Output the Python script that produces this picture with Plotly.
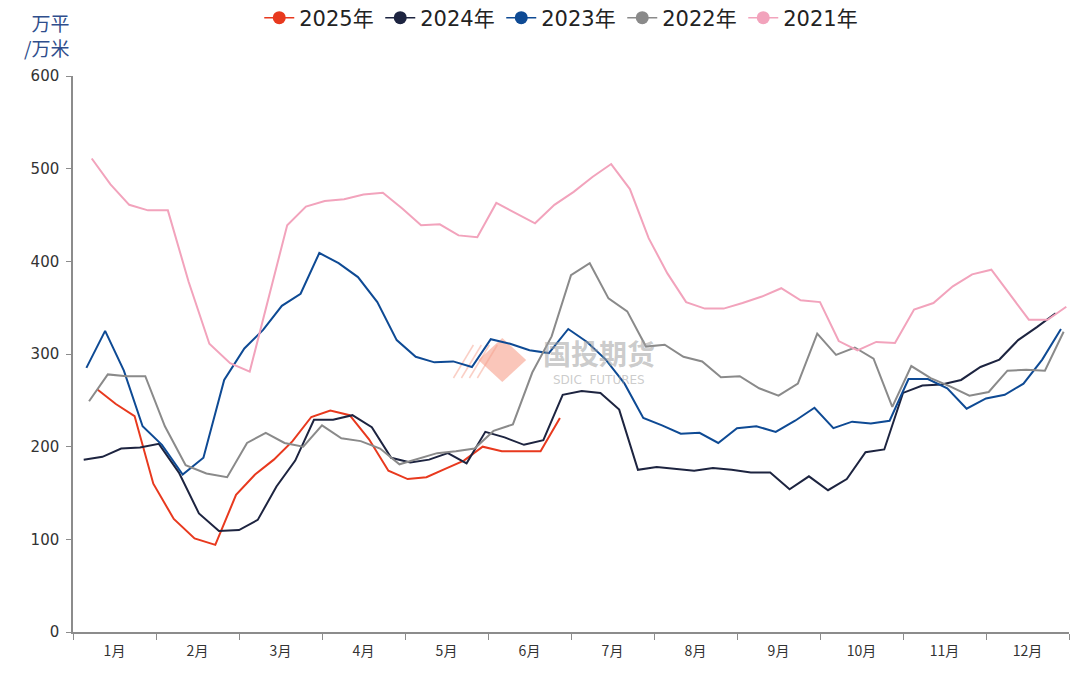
import calendar
import pandas as pd
import plotly.graph_objects as go

# ---------------- data ----------------
months = [f"{m}月" for m in range(1, 13)]

years = ["2025年", "2024年", "2023年", "2022年", "2021年"]
start_dates = ["2025-01-10", "2024-01-05", "2023-01-06", "2022-01-07", "2021-01-08"]

v2025 = [262, 246, 233, 160, 122, 101, 94, 148, 170, 186, 206, 232, 239, 234, 208,
         174, 165, 167, 176, 185, 200, 195, 195, 195, 231]

v2024 = [186, 189, 198, 199, 203, 172, 128, 109, 110, 121, 157, 185, 229, 229, 234,
         221, 188, 183, 186, 193, 182, 216, 210, 202, 207, 256, 260, 258, 240, 175,
         178, 176, 174, 177, 175, 172, 172, 154, 168, 153, 165, 194, 197, 258, 266,
         267, 272, 286, 294, 315, 329, 344]

v2023 = [285, 325, 282, 222, 202, 170, 188, 272, 306, 326, 352, 365, 409, 398, 383,
         356, 315, 297, 291, 292, 286, 316, 311, 304, 301, 327, 313, 294, 268, 231,
         223, 214, 215, 204, 220, 222, 216, 228, 242, 220, 227, 225, 228, 273, 273,
         263, 241, 252, 256, 268, 294, 327]

v2022 = [249, 278, 276, 276, 222, 180, 171, 167, 204, 215, 204, 200, 223, 209, 206,
         198, 181, 187, 193, 195, 198, 217, 224, 280, 319, 385, 398, 360, 346, 308,
         310, 297, 292, 275, 276, 263, 255, 268, 322, 299, 307, 295, 243, 287, 274,
         265, 255, 259, 282, 283, 282, 324]

v2021 = [511, 483, 461, 455, 455, 378, 311, 290, 281, 360, 439, 459, 465, 467, 472,
         474, 457, 439, 440, 428, 426, 463, 452, 441, 461, 475, 491, 505, 478, 425,
         387, 356, 349, 349, 355, 362, 371, 358, 356, 314, 304, 313, 312, 348, 355,
         373, 386, 391, 364, 337, 337, 351]

values = [v2025, v2024, v2023, v2022, v2021]
colors = ["#E8391E", "#1D2440", "#0E4A94", "#8A8A8A", "#F2A3BC"]

tick_font = "'DejaVu Sans', 'Noto Sans CJK SC', sans-serif"
cjk_font = "'Noto Sans CJK SC', sans-serif"


def month_pos(dates):
    # position in "month units": Jan 1 -> 0, each month has equal width
    return [(d.month - 1) + (d.day - 1) / calendar.monthrange(d.year, d.month)[1]
            for d in dates]


fig = go.Figure()

for name, start, vals, col in zip(years, start_dates, values, colors):
    dates = pd.date_range(start, periods=len(vals), freq="7D")
    fig.add_trace(go.Scatter(
        x=month_pos(dates), y=vals, mode="lines", name=name,
        line=dict(color=col, width=2), showlegend=False,
    ))

# legend-only entries (line + circle marker)
for name, col in zip(years, colors):
    fig.add_trace(go.Scatter(
        x=[None], y=[None], mode="lines+markers", name=name,
        line=dict(color=col, width=1.5),
        marker=dict(color=col, size=13, symbol="circle"),
        showlegend=True,
    ))

PAPER_H = 632.0
PLOT_TOP = 556.0 / PAPER_H


def py(px):
    # pixel row (from top of figure) -> paper y
    return (PAPER_H - px) / PAPER_H


fig.update_layout(
    width=1080, height=675,
    margin=dict(l=73, r=11, t=0, b=43, autoexpand=False),
    paper_bgcolor="white", plot_bgcolor="white",
    font=dict(family=tick_font, color="#333333"),
    showlegend=True,
    legend=dict(
        orientation="h", x=0.187, xanchor="left",
        y=py(18), yanchor="middle",
        font=dict(size=21, color="#222222", family=tick_font),
        entrywidth=76, entrywidthmode="pixels", itemwidth=30,
        bgcolor="rgba(0,0,0,0)", traceorder="normal",
    ),
    xaxis=dict(
        range=[0, 12], tickmode="array",
        tickvals=[i + 0.5 for i in range(12)], ticktext=months,
        ticks="", showline=True, linecolor="#8C8C8C", linewidth=1.5,
        showgrid=False, zeroline=False, automargin=False,
        ticklabelstandoff=5,
        tickfont=dict(size=14, color="#333333", family=cjk_font),
        minor=dict(tickmode="array", tickvals=list(range(13)), ticks="outside",
                   ticklen=6, tickcolor="#8C8C8C", tickwidth=1.2, showgrid=False),
        fixedrange=True,
    ),
    yaxis=dict(
        domain=[0, PLOT_TOP],
        range=[0, 600], tickmode="linear", tick0=0, dtick=100,
        ticks="outside", ticklen=5, tickcolor="#8C8C8C", tickwidth=1.2,
        showline=True, linecolor="#8C8C8C", linewidth=1.5,
        showgrid=False, zeroline=False, automargin=False,
        ticklabelstandoff=4,
        tickfont=dict(size=15, color="#333333", family=tick_font),
        fixedrange=True,
    ),
    annotations=[
        dict(text="万平<br>/万米", xref="paper", yref="paper",
             x=-0.002, y=py(35), xanchor="right", yanchor="middle",
             showarrow=False, align="right",
             font=dict(size=19, color="#2F4E8C", family=cjk_font)),
        dict(text="<b>国投期货</b>", xref="paper", yref="paper",
             x=0.528, y=py(353), xanchor="center", yanchor="middle",
             showarrow=False,
             font=dict(size=28, color="rgba(160,160,160,0.55)", family=cjk_font)),
        dict(text="SDIC  FUTURES", xref="paper", yref="paper",
             x=0.528, y=py(380), xanchor="center", yanchor="middle",
             showarrow=False,
             font=dict(size=12, color="rgba(160,160,160,0.55)", family=tick_font)),
    ],
    shapes=[
        dict(type="path", xref="paper", yref="paper",
             path=("M 0.407 {m} L 0.431 {t} L 0.455 {m} L 0.431 {b} Z").format(
                 m=py(360), t=py(338), b=py(382)),
             fillcolor="rgba(246,160,140,0.6)", line=dict(width=0), layer="below"),
    ] + [
        dict(type="line", xref="paper", yref="paper",
             x0=0.382 + k * 0.008, y0=py(378),
             x1=0.402 + k * 0.008, y1=py(345),
             line=dict(color="rgba(246,160,140,0.5)", width=1.5), layer="below")
        for k in range(4)
    ],
)

fig.write_html("out.html", post_script="document.body.style.margin='0';",
               config={"displayModeBar": False})
